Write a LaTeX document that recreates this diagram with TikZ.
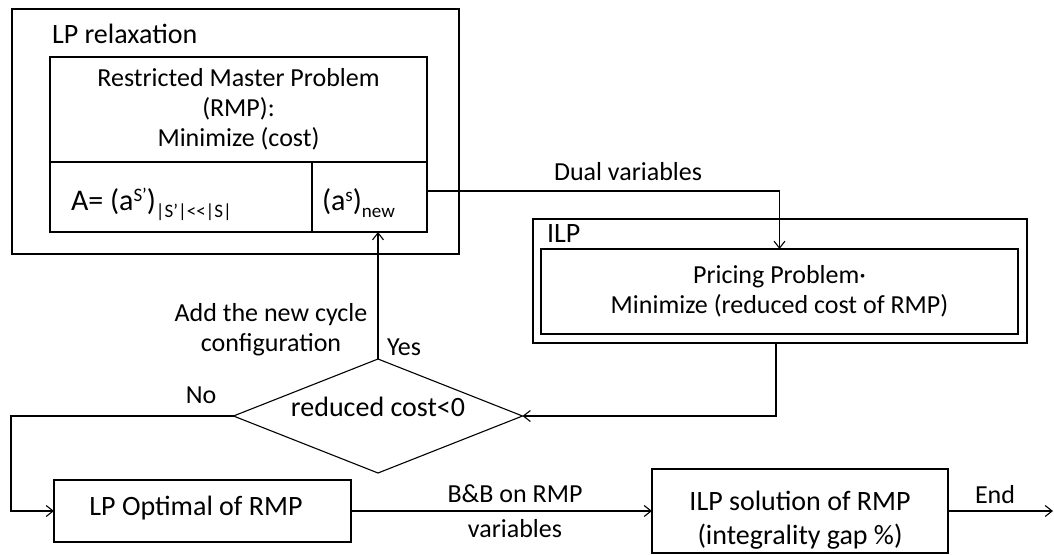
\documentclass[tikz,border=0pt]{standalone}
\usepackage{fontspec}
\setmainfont{Carlito}
\usetikzlibrary{arrows.meta,shapes.geometric}

\newcommand{\fsz}[1]{\fontsize{#1}{#1}\selectfont}

\begin{document}
\begin{tikzpicture}[x=1pt,y=-1pt,
  every node/.style={inner sep=0pt, outer sep=0pt},
  box/.style={draw, line width=1.1pt, rectangle},
  txt/.style={font=\fsz{26}, align=center},
  bigtxt/.style={font=\fsz{28}, align=center},
  arr/.style={line width=1.1pt, -{Straight Barb[length=7pt,width=11pt,line width=1.1pt]}},
  conn/.style={line width=1.1pt}
]
\useasboundingbox (0,0) rectangle (1054,554);

% LP relaxation block with the restricted master problem
\node[box, minimum width=447pt, minimum height=245pt] (lp) at (235.5,131.5) {};
\node[bigtxt, anchor=base west] (lplabel) at (52,43) {LP relaxation};
\node[box, minimum width=377pt, minimum height=105pt, txt,
      font=\fontsize{26}{30}\selectfont] (rmp) at (238.5,109.5)
  {Restricted Master Problem\\(RMP):\\Minimize (cost)};
\node[box, minimum width=262pt, minimum height=70pt] (acell) at (181,197) {};
\node[box, minimum width=115pt, minimum height=70pt] (newcell) at (369.5,197) {};
\node[anchor=base west, font=\fsz{30}] (atext) at (71,210)
  {A= (a\raisebox{9pt}{\fsz{19}S’})\raisebox{-7pt}{\fsz{19}|S’|<{}<|S|}};
\node[anchor=base west, font=\fsz{30}] (newtext) at (322,210)
  {(a\raisebox{9pt}{\fsz{19}s})\raisebox{-7pt}{\fsz{19}new}};

% ILP block with the pricing problem
\node[box, minimum width=494pt, minimum height=124pt] (ilp) at (780,281) {};
\node[bigtxt, anchor=base west] (ilplabel) at (547,242) {ILP};
\node[box, minimum width=477pt, minimum height=85pt, txt,
      font=\fontsize{26}{30}\selectfont] (pricing) at (779.5,291.5)
  {Pricing Problem·\\Minimize (reduced cost of RMP)};

% decision
\node[draw, diamond, line width=1.1pt, minimum width=289pt, minimum height=114pt] (dec) at (378,416) {};
\node[bigtxt] (dectext) at (378,407) {reduced cost<0};

% final stages
\node[box, minimum width=297pt, minimum height=62pt] (lpopt) at (202.5,511) {};
\node[bigtxt] (lpopttext) at (196,508) {LP Optimal of RMP};
\node[box, minimum width=296pt, minimum height=84pt] (ilpsol) at (800,511) {};
\node[bigtxt, font=\fontsize{28}{34}\selectfont] (ilpsoltext) at (800,520)
  {ILP solution of RMP\\(integrality gap \%)};

\coordinate (nocorner) at (11,416);
\coordinate (endpt) at (1053,511);

% connectors
\draw[arr] (dec.north) -- (dec.north |- newcell.south);
\draw[arr] ([yshift=6pt]newcell.east) -| (pricing.north);
\draw[arr] ([xshift=-4pt]ilp.south) |- (dec.east);
\draw[arr] (dec.west) -- (nocorner) |- (lpopt.west);
\draw[arr] (lpopt.east) -- (ilpsol.west);
\draw[arr] (ilpsol.east) -- (endpt);

% connector labels
\node[txt] (duallbl) at (628,172) {Dual variables};
\node[txt] (addlbl) at (271,330) {Add the new cycle\\[4pt]configuration};
\node[txt, anchor=west] (yeslbl) at (387,347) {Yes};
\node[txt] (nolbl) at (201,395) {No};
\node[txt] (bblbl) at (515,494) {B\&B on RMP};
\node[txt] (varlbl) at (515,529) {variables};
\node[txt] (endlbl) at (995,495) {End};
\end{tikzpicture}
\end{document}
